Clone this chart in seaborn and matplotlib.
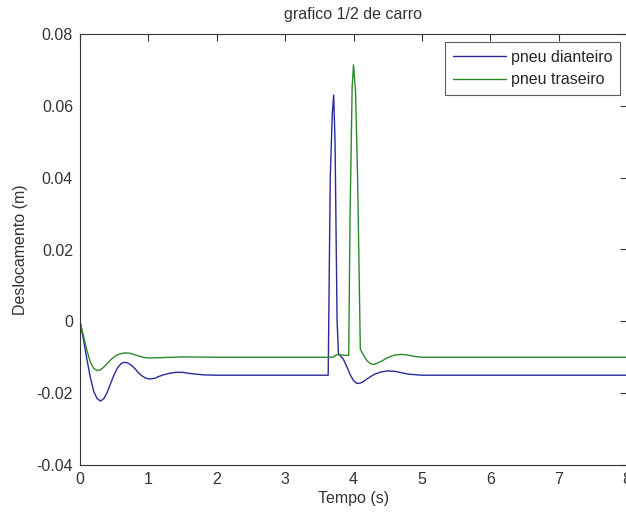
import pandas as pd
import numpy as np
import matplotlib
matplotlib.use('Agg')
import matplotlib.pyplot as plt
import seaborn as sns

# Datos (tiempo en s, deslocamento en m)
t_dianteiro = [0, 0.05, 0.1, 0.15, 0.2, 0.25, 0.3, 0.35, 0.4, 0.45, 0.5, 0.55, 0.6, 0.65,
               0.7, 0.75, 0.8, 0.85, 0.9, 0.95, 1.0, 1.05, 1.1, 1.15, 1.2, 1.3, 1.4,
               1.5, 1.6, 1.8, 2.0, 2.5, 3.0, 3.5, 3.63, 3.66, 3.69, 3.71, 3.73, 3.76,
               3.78, 3.85, 3.9, 3.95, 4.0, 4.05, 4.1, 4.15, 4.2, 4.3, 4.4, 4.5, 4.6,
               4.7, 4.8, 5.0, 6.0, 7.0, 8.0]
y_dianteiro = [0, -0.005, -0.0105, -0.0155, -0.0195, -0.0215, -0.0222, -0.0215, -0.0197,
               -0.0172, -0.0148, -0.0129, -0.0118, -0.0114, -0.0116, -0.0122, -0.0131,
               -0.0142, -0.0151, -0.0157, -0.016, -0.016, -0.0158, -0.0154, -0.015,
               -0.0145, -0.0142, -0.0142, -0.0145, -0.0149, -0.015, -0.015, -0.015,
               -0.015, -0.015, 0.040, 0.058, 0.063, 0.050, 0.0, -0.009, -0.0105, -0.0125,
               -0.0148, -0.0165, -0.0173, -0.0172, -0.0167, -0.016, -0.0148, -0.0141,
               -0.0138, -0.0139, -0.0143, -0.0147, -0.015, -0.015, -0.015, -0.015]

t_traseiro = [0, 0.05, 0.1, 0.15, 0.2, 0.25, 0.3, 0.35, 0.4, 0.45, 0.5, 0.55, 0.6, 0.65,
              0.7, 0.75, 0.8, 0.85, 0.9, 0.95, 1.0, 1.2, 1.5, 2.0, 3.0, 3.5, 3.7, 3.75,
              3.93, 3.95, 3.98, 4.0, 4.03, 4.06, 4.10, 4.15, 4.2, 4.25, 4.3, 4.4, 4.5,
              4.6, 4.7, 4.8, 4.9, 5.0, 6.0, 7.0, 8.0]
y_traseiro = [0, -0.004, -0.008, -0.0113, -0.0131, -0.0137, -0.0135, -0.0127, -0.0117,
              -0.0107, -0.0099, -0.0093, -0.009, -0.0088, -0.0088, -0.009, -0.0093,
              -0.0096, -0.0099, -0.0101, -0.0102, -0.0101, -0.0099, -0.010, -0.010,
              -0.010, -0.010, -0.0093, -0.0095, 0.030, 0.065, 0.0714, 0.064, 0.040,
              -0.0078, -0.0095, -0.011, -0.0118, -0.012, -0.0112, -0.0101, -0.0094,
              -0.0092, -0.0094, -0.0098, -0.010, -0.010, -0.010, -0.010]

df = pd.concat([
    pd.DataFrame({'t': t_dianteiro, 'y': y_dianteiro, 'serie': 'pneu dianteiro'}),
    pd.DataFrame({'t': t_traseiro, 'y': y_traseiro, 'serie': 'pneu traseiro'}),
])

sns.set_style('white')
plt.rcParams['font.family'] = ['Liberation Sans', 'DejaVu Sans']

fig = plt.figure(figsize=(6.26, 5.13), dpi=100)
ax = fig.add_axes([80 / 626, 1 - 465 / 513, 547 / 626, 431 / 513])

sns.lineplot(data=df, x='t', y='y', hue='serie', sort=False, estimator=None,
             palette=['#2a2a9a', '#2a8a2a'], linewidth=1, ax=ax)

ax.set_xlim(0, 8)
ax.set_ylim(-0.04, 0.08)
ax.set_xticks(range(0, 9))
ax.set_yticks([-0.04, -0.02, 0, 0.02, 0.04, 0.06, 0.08])
ax.set_yticklabels(['-0.04', '-0.02', '0', '0.02', '0.04', '0.06', '0.08'])
ax.tick_params(direction='in', length=5, width=0.8, top=True, right=True,
               labelsize=11.5, colors='#333333', pad=5)
for s in ax.spines.values():
    s.set_color('#333333')
    s.set_linewidth(0.8)

ax.set_title('grafico 1/2 de carro', fontsize=11.5, color='#333333', pad=11)
ax.set_xlabel('Tempo (s)', fontsize=11.5, color='#333333', labelpad=3)
ax.set_ylabel('Deslocamento (m)', fontsize=11.5, color='#333333', labelpad=6)

leg = ax.legend(loc='upper right', bbox_to_anchor=(620 / 626, 1 - 42 / 513),
                bbox_transform=fig.transFigure, fontsize=11.5, frameon=True,
                fancybox=False, edgecolor='#333333', borderaxespad=0,
                handlelength=3.3, handletextpad=0.3, labelspacing=0.45,
                borderpad=0.5)
leg.get_frame().set_linewidth(0.8)

fig.savefig('out.png', dpi=100)
